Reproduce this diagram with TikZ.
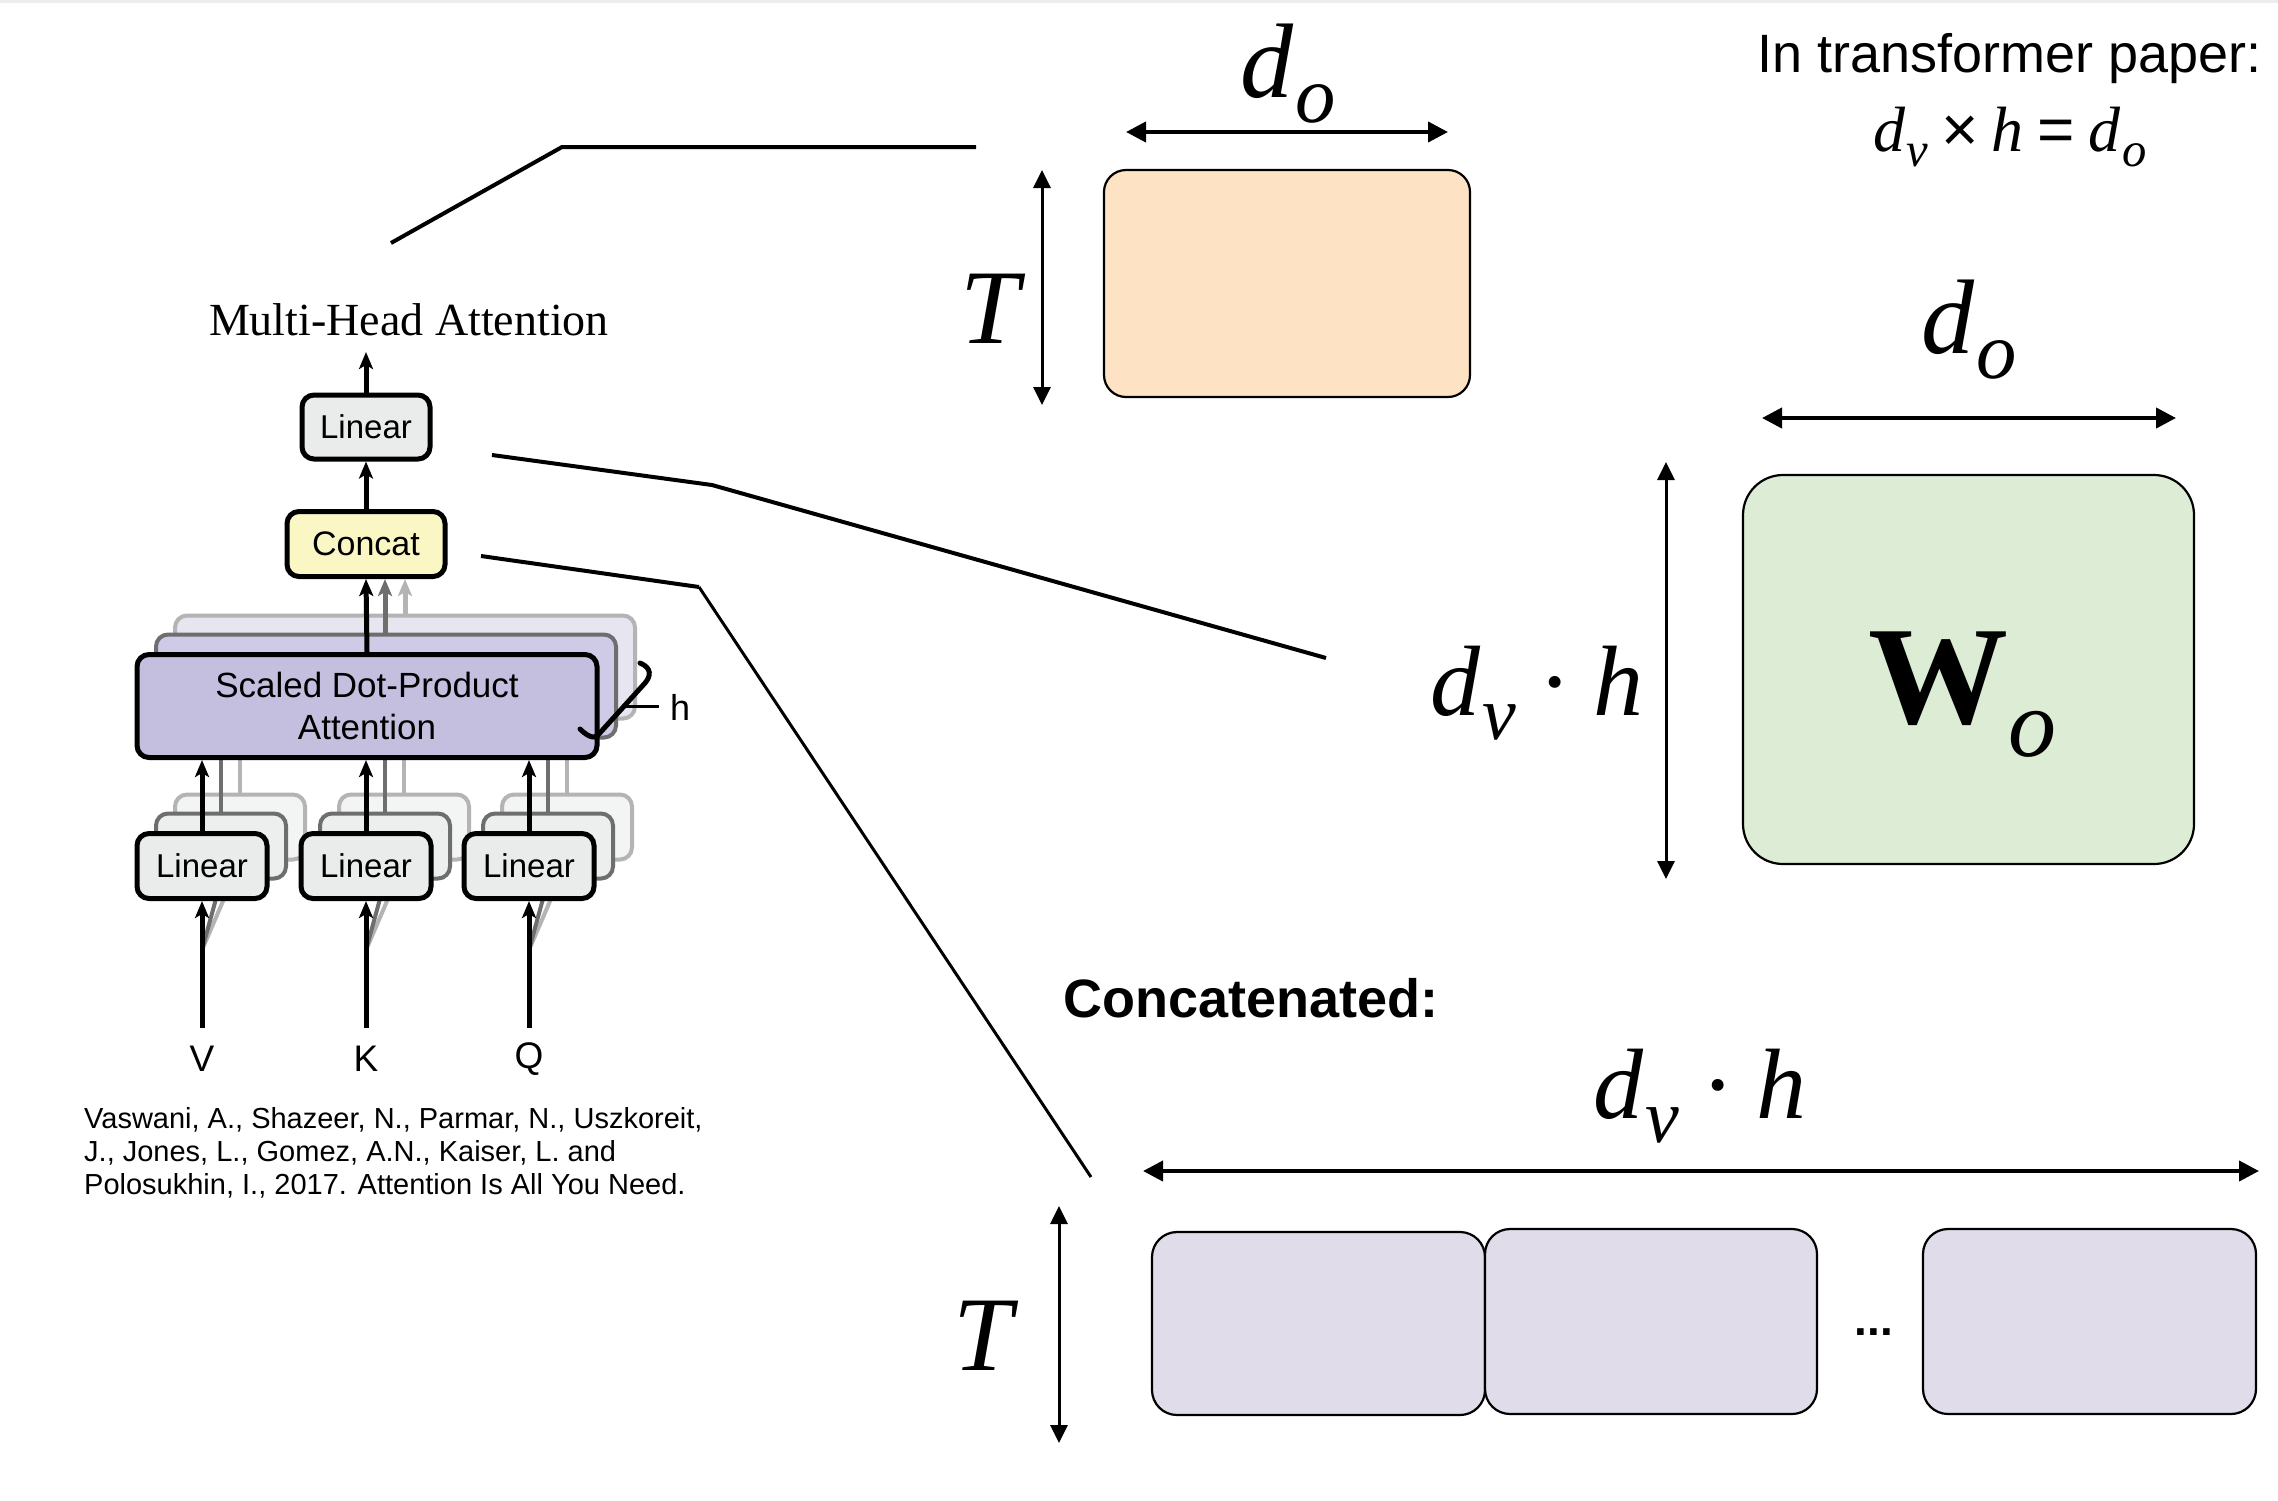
\documentclass[tikz,border=0pt]{standalone}
\usepackage{fontspec}
\setmainfont{Liberation Serif}
\setsansfont{Liberation Sans}
\newfontfamily\hv{Liberation Sans}
\usetikzlibrary{arrows.meta}
\definecolor{linfill}{HTML}{E9ECEB}
\definecolor{catfill}{HTML}{FBF7C4}
\definecolor{sdpafill}{HTML}{C4BEDF}
\definecolor{sdpafillb}{HTML}{CFCAE6}
\definecolor{sdpafillc}{HTML}{E7E5F0}
\definecolor{linfillb}{HTML}{EDEFEE}
\definecolor{linfillc}{HTML}{F3F4F4}
\definecolor{shdark}{HTML}{6E6E6E}
\definecolor{shlight}{HTML}{B4B4B4}
\definecolor{outfill}{HTML}{FDE3C4}
\definecolor{wfill}{HTML}{DDEDD5}
\definecolor{cfill}{HTML}{E1DCEA}
\newcommand\fsz[1]{\fontsize{#1}{#1}\selectfont}
\newcommand\dsub[3][0.24]{#2\kern0.02em\raisebox{-#1em}{\scalebox{0.76}{#3}}}
\begin{document}
\begin{tikzpicture}[x=1pt,y=-1pt,
  box/.style={draw=black, line width=5pt, rounded corners=12pt, inner sep=0pt},
  linbox/.style={box, fill=linfill, minimum width=130pt, minimum height=65pt, font={\hv\fsz{33}}},
  linb/.style={linbox, fill=linfillb, draw=shdark, line width=4pt},
  linc/.style={linbox, fill=linfillc, draw=shlight, line width=4pt},
  sdpabox/.style={box, fill=sdpafill, minimum width=460pt, minimum height=103pt, align=center, font={\hv\fontsize{35}{42}\selectfont}},
  sdpab/.style={sdpabox, fill=sdpafillb, draw=shdark, line width=4pt},
  sdpac/.style={sdpabox, fill=sdpafillc, draw=shlight, line width=4pt},
  blk/.style={line width=5pt, -{Stealth[length=17pt,width=14pt,inset=4pt]}},
  gdark/.style={blk, draw=shdark, color=shdark},
  glight/.style={blk, draw=shlight, color=shlight},
  dimarr/.style={line width=4pt, {Triangle[length=20pt,width=20pt]}-{Triangle[length=20pt,width=20pt]}},
  thinarr/.style={line width=3pt, {Triangle[length=18pt,width=17pt]}-{Triangle[length=18pt,width=17pt]}},
  mat/.style={draw=black, line width=2.2pt, inner sep=0pt},
  conn/.style={line width=4pt, line join=miter},
  lab/.style={inner sep=0pt, anchor=base},
  citeline/.style={inner sep=0pt, anchor=base west, font={\hv\fsz{29}}}
]
\fill[white] (0,0) rectangle (2278,1500);
\useasboundingbox (0,0) rectangle (2278,1500);
\fill[black!7] (0,0) rectangle (2278,3);

% ---------------- left: multi-head attention ----------------
\foreach \n/\x in {1/202,2/366,3/529}{
  \node[linc] (lin\n c) at (\x+38,866-39) {};
  \node[linb] (lin\n b) at (\x+19,866-20) {};
}
\node[sdpac] (sdpac) at (367+38,706-39) {};
\node[sdpab] (sdpab) at (367+19,706-20) {};
\foreach \n/\x in {1/202,2/366,3/529}{
  \draw[line width=4pt, shlight] (lin\n c.north) -- (lin\n c.north |- sdpac.south);
  \draw[line width=4pt, shdark] (lin\n b.north) -- (lin\n b.north |- sdpab.south);
  \coordinate (in\n s) at (\x,950);
  \draw[line width=4pt, shlight] (in\n s) -- (lin\n c.south);
  \draw[line width=4pt, shdark] (in\n s) -- (lin\n b.south);
}
\node[sdpabox] (sdpa) at (367,706) {Scaled Dot-Product\\Attention};
\foreach \n/\x in {1/202,2/366,3/529}{
  \node[linbox] (lin\n) at (\x,866) {Linear};
}
\node[linbox, minimum width=128pt, minimum height=64pt] (lin4) at (366,427) {Linear};
\node[box, fill=catfill, minimum width=158pt, minimum height=65pt, font={\hv\fsz{34}}] (concat) at (366,544) {Concat};
\node[lab, font={\fsz{46}}] (mha) at (409,335) {Multi-Head Attention};
\coordinate (mhaout) at (366,352);

\draw[blk] (lin4.north) -- (mhaout);
\draw[blk] (concat.north) -- (lin4.south);
\draw[blk] (sdpa.north) -- (concat.south);
\draw[gdark] (sdpab.north -| 385,0) -- (concat.south -| 385,0);
\draw[glight] (sdpac.north -| 405,0) -- (concat.south -| 405,0);
\foreach \n/\x/\t in {1/202/V,2/366/K,3/529/Q}{
  \draw[blk] (lin\n.north) -- (lin\n.north |- sdpa.south);
  \coordinate (in\n) at (\x,1028);
  \draw[blk] (in\n) -- (lin\n.south);
  \node[inner sep=0pt, font={\hv\fsz{37}}] (lab\t) at (\x,1059) {\t};
}
% h bracket
\coordinate (hb1) at (640,663);
\coordinate (hb2) at (598,735);
\coordinate (hb3) at (580,729);
\draw[line width=5pt, line cap=round] (hb1) .. controls (652,668) and (651,676) .. (645,683) -- (hb2) .. controls (594,740) and (586,735) .. (hb3);
\coordinate (ht1) at (624,706);
\node[lab, anchor=base west, font={\hv\fsz{36}}] (hlab) at (670,720) {h};
\draw[line width=3pt] (ht1) -- ([xshift=-11pt]hlab.west |- ht1);

% citation
\node[citeline] (cite1) at (84,1128) {Vaswani, A., Shazeer, N., Parmar, N., Uszkoreit,};
\node[citeline] (cite2) at (84,1161) {J., Jones, L., Gomez, A.N., Kaiser, L. and};
\node[citeline] (cite3) at (84,1194) {Polosukhin, I., 2017. Attention Is All You Need.};

% ---------------- right: matrices ----------------
\node[mat, fill=outfill, rounded corners=22pt, minimum width=366pt, minimum height=227pt] (out) at (1287,283.5) {};
\coordinate (doL) at (1126,132);
\coordinate (doR) at (1448,132);
\draw[dimarr] (doL) -- (doR);
\node[lab, font={\fsz{106}\itshape}] (dolab) at (1288,97) {\dsub{d}{o}};
\coordinate (tT) at (1042,170);
\coordinate (tB) at (1042,405);
\draw[thinarr] (tT) -- (tB);
\node[lab, font={\fsz{106}\itshape}] (tlab) at (990,343) {T};

\node[lab, anchor=base east, font={\hv\fsz{54}}] (paper) at (2262,72) {In transformer paper:};
\node[lab, font={\fsz{64}\itshape}] (formula) at (2010,151) {\dsub{d}{v}\hspace{0.2em}{\hv\upshape ×}\hspace{0.2em}h\hspace{0.22em}{\hv\upshape =}\hspace{0.22em}\dsub{d}{o}};

\node[mat, fill=wfill, rounded corners=40pt, minimum width=451pt, minimum height=389pt] (wo) at (1968.5,669.5) {};
\node[lab, font={\fsz{140}\bfseries}] (wolab) at (1962,723) {W\raisebox{-33pt}{\fsz{96}\mdseries\itshape o}};
\coordinate (wdL) at (1762,418);
\coordinate (wdR) at (2176,418);
\draw[dimarr] (wdL) -- (wdR);
\node[lab, font={\fsz{106}\itshape}] (wdlab) at (1969,353) {\dsub{d}{o}};
\coordinate (wvT) at (1666,462);
\coordinate (wvB) at (1666,879);
\draw[thinarr] (wvT) -- (wvB);
\node[lab, font={\fsz{100}\itshape}] (wvlab) at (1537,715) {\dsub{d}{v}\hspace{0.22em}{\upshape ·}\hspace{0.22em}h};

\node[lab, anchor=base west, font={\hv\fsz{54}\bfseries}] (catlab) at (1063,1017) {Concatenated:};
\node[lab, font={\fsz{100}\itshape}] (chlab) at (1700,1118) {\dsub{d}{v}\hspace{0.22em}{\upshape ·}\hspace{0.22em}h};
\coordinate (chL) at (1143,1171);
\coordinate (chR) at (2259,1171);
\draw[dimarr] (chL) -- (chR);
\coordinate (cvT) at (1059,1206);
\coordinate (cvB) at (1059,1443);
\draw[thinarr] (cvT) -- (cvB);
\node[lab, font={\fsz{106}\itshape}] (ctlab) at (983,1370) {T};
\node[mat, fill=cfill, rounded corners=25pt, minimum width=333pt, minimum height=183pt] (cb1) at (1318.5,1323.5) {};
\node[mat, fill=cfill, rounded corners=25pt, minimum width=332pt, minimum height=185pt] (cb2) at (1651,1321.5) {};
\node[mat, fill=cfill, rounded corners=25pt, minimum width=333pt, minimum height=185pt] (cb3) at (2089.5,1321.5) {};
\node[inner sep=0pt, font={\hv\fsz{46}\bfseries}] (dots) at (1874,1332) {...};

% ---------------- zoom connectors ----------------
\coordinate (c1a) at (391,243);
\coordinate (c1b) at (562,147);
\coordinate (c1c) at (976,147);
\draw[conn] (c1a) -- (c1b) -- (c1c);
\coordinate (c2a) at (492,455);
\coordinate (c2b) at (712,485);
\coordinate (c2c) at (1326,658);
\draw[conn] (c2a) -- (c2b) -- (c2c);
\coordinate (c3a) at (481,556);
\coordinate (c3b) at (699,587);
\coordinate (c3c) at (1091,1177);
\draw[conn] (c3a) -- (c3b);
\draw[line width=3pt] (c3b) -- (c3c);
\end{tikzpicture}
\end{document}
